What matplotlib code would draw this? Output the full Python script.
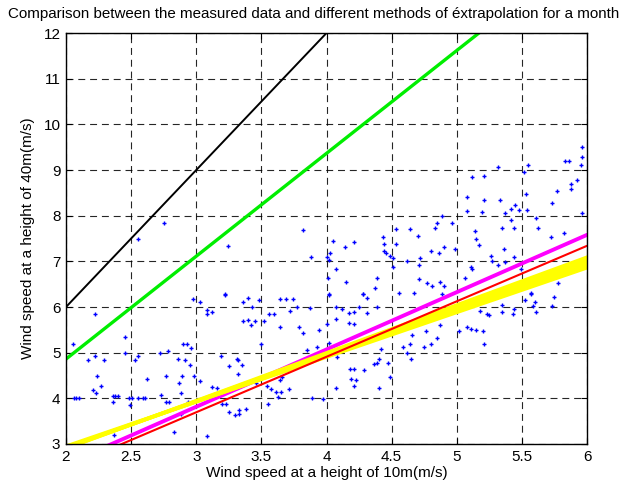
import matplotlib
matplotlib.use("Agg")
import matplotlib.pyplot as plt

plt.rcParams['font.family'] = ['Liberation Sans', 'DejaVu Sans']
plt.rcParams['lines.scale_dashes'] = False

title = "Comparison between the measured data and different methods of éxtrapolation for a month"
xlabel = "Wind speed at a height of 10m(m/s)"
ylabel = "Wind speed at a height of 40m(m/s)"

xticks = [2, 2.5, 3, 3.5, 4, 4.5, 5, 5.5, 6]
xticklabels = ["2", "2.5", "3", "3.5", "4", "4.5", "5", "5.5", "6"]
yticks = [3, 4, 5, 6, 7, 8, 9, 10, 11, 12]

# measured data (10 m speed, 40 m speed)
meas_x = [
    2.75, 2.555, 3.24, 3.22,
    3.82, 4.05, 4.21, 4.14, 4.03, 3.88, 4.00, 4.02, 4.07, 4.01, 4.15, 4.02, 4.28, 4.39, 4.37,
    4.43, 4.44, 4.44, 4.46, 4.49, 4.51, 4.53, 4.53, 4.64, 4.62, 4.51, 4.56, 4.67, 4.70,
    5.96, 5.96, 5.83, 5.86, 5.95, 5.55, 5.32, 5.52, 5.12, 5.21, 5.92, 5.88, 5.88, 5.77, 5.53,
    5.08, 5.21, 5.33, 5.73, 5.45, 5.42, 5.48, 5.54, 5.08, 5.19, 5.37, 5.96, 4.89, 5.61, 5.42,
    4.85, 4.96, 4.83, 5.35, 5.44, 5.62, 5.14, 5.82, 5.72, 5.15, 5.17, 4.90, 4.99, 5.36, 4.80,
    4.86, 5.26, 5.44, 4.72, 5.27, 5.37, 4.71, 5.11, 5.12, 5.32, 5.49, 5.06, 4.71, 4.77, 4.81,
    4.87, 4.90, 5.78, 5.90, 5.49, 5.42, 5.57,
    2.22, 2.05, 2.45, 2.45, 2.17, 2.22, 2.29, 2.24, 2.27, 2.21, 2.23, 2.06, 2.08, 2.10, 2.36,
    2.38, 2.40, 2.36, 2.48, 2.51, 2.55, 2.59, 2.61, 2.49, 2.53, 2.55, 2.62, 2.72, 2.78, 2.73,
    2.77, 2.79, 2.77, 2.86, 2.91, 2.95, 2.89, 2.87, 2.88, 2.90, 2.93, 2.96, 2.975, 3.03, 3.08,
    3.12, 3.085, 3.22, 3.19, 3.25, 3.31, 3.32, 3.32, 3.03, 3.12, 3.16, 3.20, 3.23, 3.25, 3.30,
    3.33, 3.33, 2.88, 2.94, 2.83, 3.08, 2.37, 2.98,
    3.40, 3.36, 3.48, 3.64, 3.69, 3.745, 3.43, 3.72, 3.77, 3.87, 3.56, 3.60, 3.36, 3.40, 3.45,
    3.42, 3.52, 3.64, 3.79, 3.82, 3.945, 4.02, 4.07, 4.12, 4.17, 4.21, 4.25, 4.31, 4.28, 4.31,
    4.39, 4.07, 4.17, 4.21, 4.00, 4.02, 3.925, 3.85, 3.50, 3.35, 4.08, 4.18, 4.21, 4.29, 4.365,
    4.39, 4.40, 4.47, 4.42, 4.59, 4.62, 4.64, 4.66, 4.65, 4.49, 4.19, 4.23, 4.21, 4.07, 4.405,
    3.66, 3.64, 3.46, 3.54, 3.57, 3.61, 3.65, 3.71, 3.63, 3.89, 3.97, 3.55, 3.38,
    4.89, 4.76, 4.87, 4.85, 4.80, 4.75, 5.02, 5.08, 5.11, 5.15, 5.20, 5.21, 5.18, 5.235, 5.25,
    5.35, 5.35, 5.44, 5.43, 5.525, 5.57, 5.60, 5.585, 5.61, 5.75, 5.73,
]
meas_y = [
    7.83, 7.49, 7.33, 6.28,
    7.69, 7.45, 7.42, 7.31, 7.18, 7.10, 7.10, 7.04, 6.84, 6.63, 6.54, 6.28, 6.28, 6.63, 6.42,
    7.54, 7.38, 7.23, 7.18, 7.12, 7.07, 7.70, 7.38, 7.70, 7.01, 6.87, 6.31, 6.30, 7.55,
    9.50, 9.28, 9.20, 9.20, 9.12, 9.12, 9.07, 8.96, 8.84, 8.87, 8.78, 8.70, 8.58, 8.54, 8.47,
    8.41, 8.34, 8.34, 8.28, 8.23, 8.15, 8.12, 8.12, 8.10, 8.07, 8.05, 8.05, 7.99, 7.96, 7.91,
    7.83, 7.83, 7.72, 7.72, 7.72, 7.72, 7.66, 7.63, 7.54, 7.49, 7.35, 7.31, 7.28, 7.28, 7.23,
    7.18, 7.12, 7.09, 7.07, 7.01, 6.99, 6.91, 6.88, 6.83, 6.91, 6.84, 6.64, 6.61, 6.52, 6.47,
    6.54, 6.47, 6.52, 6.80, 6.41, 6.35, 6.31,
    5.84, 5.18, 5.34, 4.99, 4.83, 4.92, 4.83, 4.50, 4.28, 4.18, 4.12, 4.00, 4.00, 4.00, 4.05,
    4.05, 4.05, 3.92, 4.00, 4.00, 4.00, 4.00, 4.00, 3.85, 4.83, 4.92, 4.42, 4.99, 5.03, 4.08,
    3.92, 3.92, 4.48, 4.87, 4.83, 4.72, 4.50, 4.34, 4.12, 5.18, 5.18, 5.10, 6.18, 6.11, 5.93,
    5.89, 5.84, 6.26, 4.92, 4.71, 4.87, 4.84, 4.54, 4.39, 4.25, 4.22, 3.88, 3.88, 3.70, 3.64,
    3.66, 3.75, 3.65, 3.92, 3.26, 3.17, 3.20, 4.50,
    6.20, 6.12, 6.16, 6.18, 6.18, 6.18, 6.00, 5.91, 6.00, 5.98, 5.84, 5.84, 5.69, 5.71, 5.69,
    5.60, 5.69, 5.56, 5.56, 5.44, 5.50, 6.27, 6.00, 5.95, 5.86, 5.89, 6.00, 5.86, 6.29, 6.20,
    6.00, 5.73, 5.64, 5.62, 5.62, 5.21, 5.12, 5.05, 5.19, 4.74, 4.91, 4.65, 4.65, 4.63, 4.76,
    4.78, 4.86, 4.78, 5.07, 5.13, 4.99, 5.20, 5.38, 4.87, 4.47, 4.42, 4.40, 4.27, 4.23, 4.23,
    4.47, 4.40, 4.34, 4.27, 4.20, 4.14, 4.14, 4.20, 4.02, 4.00, 3.98, 3.87, 3.76,
    6.29, 5.47, 5.60, 5.32, 5.18, 5.12, 5.47, 5.56, 5.52, 5.49, 5.47, 5.18, 5.91, 5.85, 5.82,
    6.05, 5.89, 5.95, 5.84, 6.16, 6.29, 6.11, 6.02, 5.88, 6.22, 6.03,
]

# extrapolation methods (endpoints)
black_x, black_y = [2.0, 4.0], [6.0, 12.0]
green_x, green_y = [2.0, 5.17], [4.86, 12.0]
magenta_x, magenta_y = [2.0, 6.0], [2.56, 7.58]
red_x, red_y = [2.0, 6.0], [2.48, 7.34]
yellow_x = [2.0, 6.0]
yellow_ys = [[2.90, 7.09], [2.91, 7.03], [2.92, 6.97], [2.93, 6.91], [2.95, 6.86]]

fig = plt.figure(figsize=(6.34, 4.87), dpi=100)
ax = fig.add_axes([0.1041, 0.0883, 0.8218, 0.8439])

ax.plot(meas_x, meas_y, linestyle='none', marker='+', markersize=3,
        markeredgewidth=1.0, color='#0000ff', zorder=3)
ax.plot(black_x, black_y, color='black', lw=1.4, zorder=4)
ax.plot(green_x, green_y, color='#00ee00', lw=2.4, zorder=4)
ax.plot(magenta_x, magenta_y, color='#ff00ff', lw=2.8, zorder=4)
for yy in yellow_ys:
    ax.plot(yellow_x, yy, color='#ffff00', lw=2.6, zorder=5)
ax.plot(red_x, red_y, color='#ff0000', lw=1.5, zorder=6)

ax.set_xlim(2, 6)
ax.set_ylim(3, 12)
ax.set_xticks(xticks)
ax.set_xticklabels(xticklabels)
ax.set_yticks(yticks)
ax.grid(True, color='black', linestyle=(0, (5, 3.5)), linewidth=0.8, alpha=0.85)
ax.tick_params(direction='in', top=True, right=True, length=4, width=0.8,
               labelsize=11, pad=4)
for s in ax.spines.values():
    s.set_linewidth(1.0)
    s.set_zorder(7)

ax.set_xlabel(xlabel, fontsize=11, labelpad=2)
ax.set_ylabel(ylabel, fontsize=11, labelpad=6)
fig.text(8 / 634, 1 - 14 / 487, title, fontsize=10.9, ha='left', va='center')

fig.savefig("out.png", dpi=100, facecolor='white')
